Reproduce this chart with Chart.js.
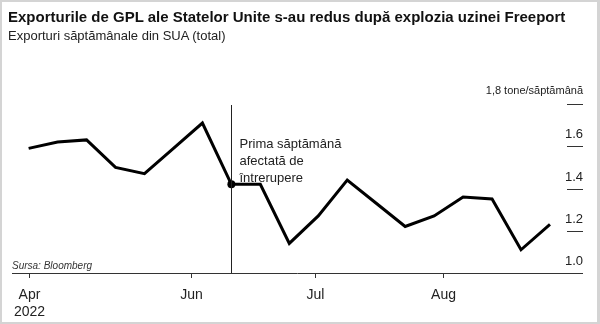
<!DOCTYPE html>
<html>
<head>
<meta charset="utf-8">
<script src="https://cdn.jsdelivr.net/npm/chart.js@4"></script>
<style>
  html, body { margin: 0; padding: 0; background: #fff; }
  #frame {
    position: relative; width: 600px; height: 324px; box-sizing: border-box;
    border: 2px solid #d4d4d4; border-right-width: 3px; overflow: hidden;
    font-family: "Liberation Sans", Arial, sans-serif; color: #111;
  }
  #title { position: absolute; left: 6px; top: 6px; font-size: 15px; font-weight: bold; white-space: nowrap; }
  #subtitle { position: absolute; left: 6px; top: 26px; font-size: 13px; color: #222; white-space: nowrap; }
  #source { position: absolute; left: 10px; top: 258px; font-size: 10px; font-style: italic; color: #333; }
  canvas { position: absolute; left: -2px; top: -2px; }
</style>
</head>
<body>
<div id="frame">
  <canvas id="chart" width="600" height="324"></canvas>
  <div id="title">Exporturile de GPL ale Statelor Unite s-au redus după explozia uzinei Freeport</div>
  <div id="subtitle">Exporturi săptămânale din SUA (total)</div>
  <div id="source">Sursa: Bloomberg</div>
</div>
<script>
// weekly exports, million tonnes per week
const weeks = [0, 1, 2, 3, 4, 5, 6, 7, 8, 9, 10, 11, 12, 13, 14, 15, 16, 17, 18];
const exportsValues = [1.59, 1.62, 1.63, 1.50, 1.47, 1.59, 1.71, 1.42, 1.42, 1.14, 1.27, 1.44, 1.33, 1.22, 1.27, 1.36, 1.35, 1.11, 1.23];

// x-axis month ticks (in weeks from the first point)
const monthTickPos = [0.03, 5.62, 9.88, 14.31];
const monthTickLabels = [['Apr', '2022'], ['Jun'], ['Jul'], ['Aug']];

// y-axis ticks
const yTicks = [1.0, 1.2, 1.4, 1.6, 1.8];
const yTickLabels = ['1.0', '1.2', '1.4', '1.6', '1,8 tone/săptămână'];

// event marker
const eventWeek = 7;
const eventLabel = ['Prima săptămână', 'afectată de', 'întrerupere'];

const FONT = '"Liberation Sans", Arial, sans-serif';

const axesPlugin = {
    id: 'axesPlugin',
    afterDraw(chart) {
        const ctx = chart.ctx;
        const x = chart.scales.x;
        const y = chart.scales.y;
        const area = chart.chartArea;
        ctx.save();

        // bottom axis line
        const base = y.getPixelForValue(yTicks[0]);
        ctx.strokeStyle = '#333';
        ctx.lineWidth = 1;
        ctx.beginPath();
        ctx.moveTo(area.left, base + 0.5);
        ctx.lineTo(area.right, base + 0.5);
        ctx.stroke();

        // month ticks and labels
        ctx.fillStyle = '#222';
        ctx.font = '14px ' + FONT;
        ctx.textAlign = 'center';
        ctx.textBaseline = 'middle';
        monthTickPos.forEach((pos, i) => {
            const px = Math.round(x.getPixelForValue(pos)) + 0.5;
            ctx.beginPath();
            ctx.moveTo(px, base);
            ctx.lineTo(px, base + 5);
            ctx.stroke();
            monthTickLabels[i].forEach((line, j) => {
                ctx.fillText(line, px, base + 22 + j * 17);
            });
        });

        // right-hand y ticks: short dashes with labels above
        ctx.textAlign = 'right';
        ctx.textBaseline = 'alphabetic';
        yTicks.forEach((v, i) => {
            const py = Math.round(y.getPixelForValue(v)) + 0.5;
            if (i > 0) {
                ctx.beginPath();
                ctx.moveTo(area.right - 16, py);
                ctx.lineTo(area.right, py);
                ctx.stroke();
            }
            const last = i === yTicks.length - 1;
            ctx.font = (last ? '11px ' : '13px ') + FONT;
            ctx.fillText(yTickLabels[i], area.right, py - (last ? 11 : 9));
        });

        // event marker line and label
        const ex = Math.round(x.getPixelForValue(eventWeek)) + 0.5;
        ctx.strokeStyle = '#222';
        ctx.beginPath();
        ctx.moveTo(ex, y.getPixelForValue(1.8) + 1);
        ctx.lineTo(ex, base);
        ctx.stroke();
        ctx.textAlign = 'left';
        ctx.textBaseline = 'middle';
        ctx.font = '13px ' + FONT;
        eventLabel.forEach((line, j) => {
            ctx.fillText(line, ex + 8, 144 + j * 17);
        });
        ctx.restore();
    }
};

new Chart(document.getElementById('chart'), {
    type: 'line',
    data: {
        datasets: [{
            data: weeks.map((w, i) => ({ x: w, y: exportsValues[i] })),
            borderColor: '#000',
            borderWidth: 3,
            borderJoinStyle: 'miter',
            tension: 0,
            pointRadius: weeks.map(w => (w === eventWeek ? 4 : 0)),
            pointBackgroundColor: '#000',
            pointBorderWidth: 0
        }]
    },
    options: {
        responsive: false,
        animation: false,
        layout: { padding: { left: 12, right: 17, top: 104, bottom: 51 } },
        plugins: { legend: { display: false }, tooltip: { enabled: false } },
        scales: {
            x: { type: 'linear', display: false, min: -0.574, max: 19.14 },
            y: { display: false, min: 1.0, max: 1.8 }
        }
    },
    plugins: [axesPlugin]
});
</script>
</body>
</html>
